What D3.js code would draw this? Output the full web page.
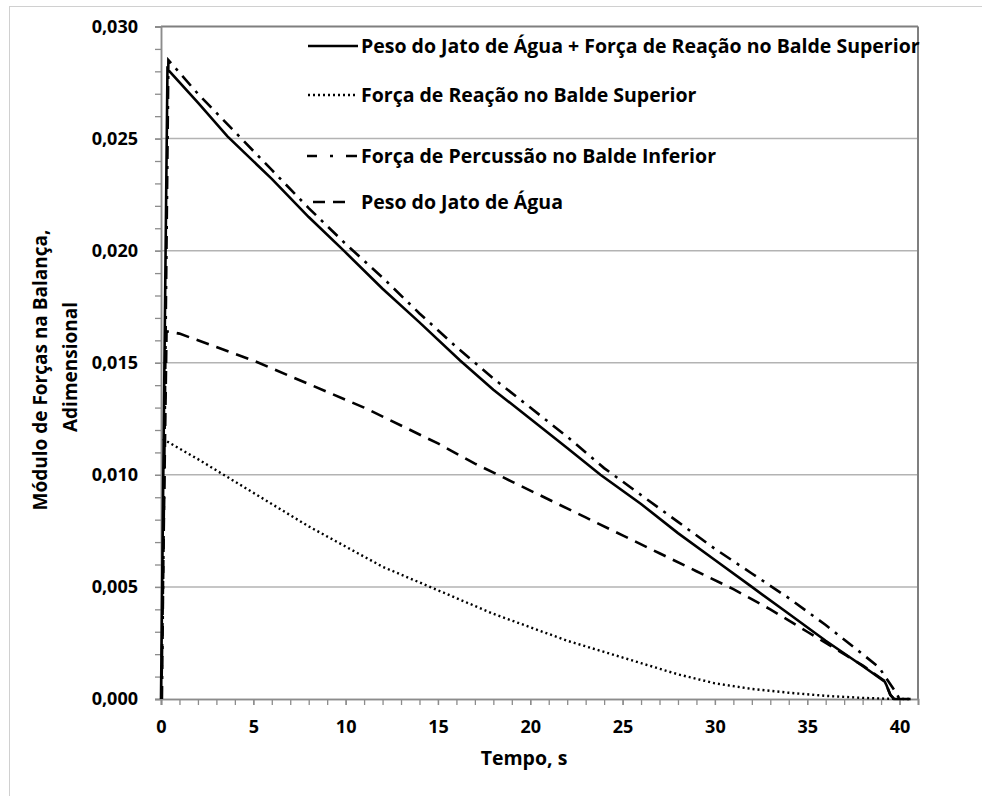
<!DOCTYPE html>
<html>
<head>
<meta charset="utf-8">
<script src="https://cdn.jsdelivr.net/npm/d3@7/dist/d3.min.js"></script>
<style>
  html, body { margin: 0; padding: 0; background: #fff; }
  svg { display: block; }
  text { font-family: "Open Sans", "Noto Sans", sans-serif; font-weight: bold; fill: #000; }
</style>
</head>
<body>
<svg id="chart" width="982" height="796"></svg>
<script>
// ---- Data ----
const tTotal = [0, 0.35, 2, 3.6, 6, 8, 9.9, 12, 14, 16.2, 18, 20, 22, 23.8, 26, 28, 30, 32, 34, 36, 38, 39.2, 39.3, 39.5, 39.7, 40.6];
const vTotal = [0, 0.0281, 0.0266, 0.0251, 0.0232, 0.0215, 0.0200, 0.0183, 0.0168, 0.0151, 0.0138, 0.0125, 0.0112, 0.0100, 0.0087, 0.0074, 0.0062, 0.0050, 0.0038, 0.0026, 0.00147, 0.00077, 0.0006, 0.00018, 0, 0];

const tReac = [0.1, 2, 4, 6, 8, 10, 12, 14, 16, 18, 20, 22, 24, 26, 28, 30, 32, 34, 36, 38, 39.5, 40.6];
const vReac = [0.0116, 0.0107, 0.0097, 0.0087, 0.0077, 0.0068, 0.0059, 0.0052, 0.0045, 0.0038, 0.0032, 0.0026, 0.0021, 0.0016, 0.0011, 0.0007, 0.00045, 0.00028, 0.00014, 0.00005, 0.00001, 0];

const tPerc = [0.05, 0.4, 2, 4, 6, 8, 10, 12, 14, 16, 18, 20, 22, 24, 26, 28, 30, 32, 34, 36, 38, 38.9, 39.3, 39.8, 40.0];
const vPerc = [0, 0.0285, 0.0270, 0.0253, 0.0236, 0.0219, 0.0203, 0.0188, 0.0172, 0.0157, 0.0143, 0.0130, 0.0117, 0.0103, 0.0091, 0.0079, 0.0067, 0.0056, 0.0045, 0.0033, 0.0020, 0.0014, 0.0009, 0.0003, 0];

const tJet = [0.02, 0.3, 1, 3, 5, 7, 9, 11, 13, 15, 17, 19, 21, 23, 25, 27, 29, 31, 33, 35, 37, 38, 39.2, 39.5, 39.7];
const vJet = [0, 0.0164, 0.0163, 0.0157, 0.0151, 0.0144, 0.0137, 0.0130, 0.0122, 0.0114, 0.0105, 0.0097, 0.0089, 0.0081, 0.0073, 0.0065, 0.0057, 0.0049, 0.0040, 0.0030, 0.0020, 0.0015, 0.0008, 0.0002, 0];

const seriesNames = [
  "Peso do Jato de Água + Força de Reação no Balde Superior",
  "Força de Reação no Balde Superior",
  "Força de Percussão no Balde Inferior",
  "Peso do Jato de Água"
];
const xTicks = [0, 5, 10, 15, 20, 25, 30, 35, 40];
const yTicks = [0, 0.005, 0.010, 0.015, 0.020, 0.025, 0.030];
const xTitle = "Tempo, s";
const yTitleLines = ["Módulo de Forças na Balança,", "Adimensional"];

// ---- Layout ----
const FS = "19.5px", TFS = "18px";
const svg = d3.select("#chart");
const L = 161, R = 918, T = 26.5, B = 699;
const x = d3.scaleLinear().domain([0, 41]).range([L, R]);
const y = d3.scaleLinear().domain([0, 0.030]).range([B, T]);
const fmt = d3.formatLocale({decimal: ",", thousands: ".", grouping: [3], currency: ["", ""]}).format(".3f");

// outer chart border
svg.append("rect").attr("x", 9.5).attr("y", 6.5).attr("width", 1000).attr("height", 1000)
  .attr("fill", "none").attr("stroke", "#d0d0d0").attr("stroke-width", 1);

// gridlines
svg.append("g").selectAll("line").data(yTicks.filter(d => d > 0 && d < 0.030)).join("line")
  .attr("x1", L).attr("x2", R).attr("y1", d => y(d)).attr("y2", d => y(d))
  .attr("stroke", "#b3b3b3").attr("stroke-width", 1.5);

// plot border top & right
svg.append("line").attr("x1", L).attr("x2", R).attr("y1", T).attr("y2", T).attr("stroke", "#7f7f7f").attr("stroke-width", 2);
svg.append("line").attr("x1", R).attr("x2", R).attr("y1", T).attr("y2", B).attr("stroke", "#7f7f7f").attr("stroke-width", 2);

// Y axis
const yMinor = d3.range(0, 31).map(i => i * 0.001);
const yAxis = svg.append("g").attr("transform", `translate(${L},0)`)
  .call(d3.axisLeft(y).tickValues(yMinor).tickSize(6).tickFormat(""));
const yAxisLab = svg.append("g").attr("transform", `translate(${L},0)`)
  .call(d3.axisLeft(y).tickValues(yTicks).tickSize(6).tickPadding(17).tickFormat(fmt));
[yAxis, yAxisLab].forEach(g => {
  g.selectAll("line").attr("stroke", "#8c8c8c").attr("stroke-width", 1.3);
  g.select(".domain").attr("stroke", "#8c8c8c").attr("stroke-width", 1.5);
});
yAxisLab.selectAll("text").style("font-size", TFS).style("font-family", '"Open Sans", sans-serif').style("font-weight", "bold").attr("fill", "#000");

// X axis
const xMinor = d3.range(0, 42);
const xAxis = svg.append("g").attr("transform", `translate(0,${B})`)
  .call(d3.axisBottom(x).tickValues(xMinor).tickSize(6).tickFormat(""));
const xAxisLab = svg.append("g").attr("transform", `translate(0,${B})`)
  .call(d3.axisBottom(x).tickValues(xTicks).tickSize(6).tickPadding(15).tickFormat(d3.format("d")));
[xAxis, xAxisLab].forEach(g => {
  g.selectAll("line").attr("stroke", "#8c8c8c").attr("stroke-width", 1.3);
  g.select(".domain").attr("stroke", "#8c8c8c").attr("stroke-width", 1.5);
});
xAxisLab.selectAll("text").style("font-size", TFS).style("font-family", '"Open Sans", sans-serif').style("font-weight", "bold").attr("fill", "#000");

// Titles
svg.append("text").attr("x", 524).attr("y", 758).attr("dy", "0.35em").attr("text-anchor", "middle").style("font-size", FS).text(xTitle);
svg.append("text").attr("transform", "translate(40,370) rotate(-90)").attr("dy", "0.35em").attr("text-anchor", "middle").style("font-size", "19px").text(yTitleLines[0]);
svg.append("text").attr("transform", "translate(70,367) rotate(-90)").attr("dy", "0.35em").attr("text-anchor", "middle").style("font-size", "19px").text(yTitleLines[1]);

// Series
const styles = [
  {dash: null, legDash: null, w: 2.6, lx: [308, 358]},
  {dash: "2,3", legDash: "2,3", w: 2.4, lx: [308, 355]},
  {dash: "13,7,3,7", legDash: "10,13,3,13,11", w: 2.6, lx: [307, 358]},
  {dash: "13,8", legDash: "12,8", w: 2.6, lx: [313, 345]}
];
const series = [
  tTotal.map((t, i) => [t, vTotal[i]]),
  tReac.map((t, i) => [t, vReac[i]]),
  tPerc.map((t, i) => [t, vPerc[i]]),
  tJet.map((t, i) => [t, vJet[i]])
];
const line = d3.line().x(d => x(d[0])).y(d => y(d[1]));
const drawOrder = [1, 3, 2, 0];
drawOrder.forEach(k => {
  svg.append("path").datum(series[k]).attr("d", line)
    .attr("fill", "none").attr("stroke", "#000")
    .attr("stroke-width", styles[k].w)
    .attr("stroke-dasharray", styles[k].dash)
    .attr("stroke-linejoin", "miter");
});

// Legend
const legRows = [46, 95, 156, 202];
const legG = svg.append("g");
seriesNames.forEach((name, k) => {
  const yy = legRows[k];
  legG.append("line").attr("x1", styles[k].lx[0]).attr("x2", styles[k].lx[1]).attr("y1", yy).attr("y2", yy)
    .attr("stroke", "#000").attr("stroke-width", styles[k].w)
    .attr("stroke-dasharray", styles[k].legDash);
  legG.append("text").attr("x", 361).attr("y", yy).attr("dy", "0.35em")
    .style("font-size", FS).text(name);
});
</script>
</body>
</html>
